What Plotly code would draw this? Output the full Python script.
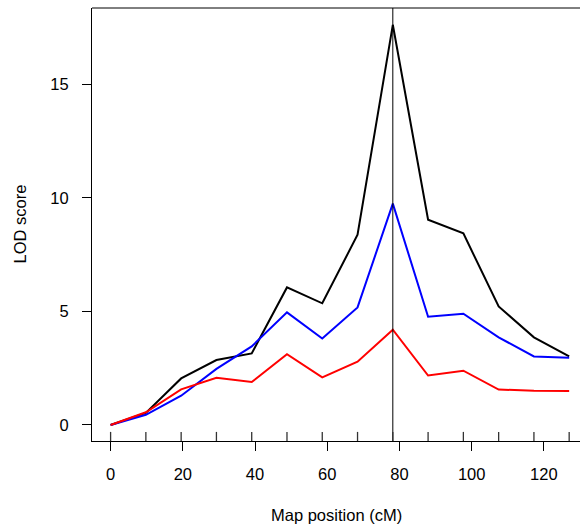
import plotly.graph_objects as go

# Marker positions (cM)
positions = [0.0, 9.77, 19.54, 29.31, 39.08, 48.85, 58.62, 68.39, 78.16, 87.93, 97.7, 107.47, 117.24, 127.0]

# LOD scores
lod_black = [0.0, 0.53, 2.05, 2.86, 3.15, 6.06, 5.36, 8.38, 17.63, 9.04, 8.44, 5.22, 3.86, 3.02]
lod_blue = [0.0, 0.45, 1.29, 2.47, 3.46, 4.96, 3.81, 5.18, 9.75, 4.77, 4.90, 3.86, 3.02, 2.96]
lod_red = [0.0, 0.56, 1.57, 2.08, 1.89, 3.12, 2.10, 2.79, 4.20, 2.18, 2.39, 1.56, 1.51, 1.50]

x_ticks = [0, 20, 40, 60, 80, 100, 120]
y_ticks = [0, 5, 10, 15]

x_range = [-5.15, 130.0]
y_range = [-0.706, 18.37]

font_family = "Liberation Sans, Arial, sans-serif"
fs = 16.5

fig = go.Figure()
for vals, col in [(lod_black, "#000000"), (lod_blue, "#0000FF"), (lod_red, "#FF0000")]:
    fig.add_trace(go.Scatter(x=positions, y=vals, mode="lines",
                             line=dict(color=col, width=2), showlegend=False,
                             hoverinfo="skip"))

# vertical line at peak of the black curve
peak_pos = positions[lod_black.index(max(lod_black))]
shapes = [dict(type="line", xref="x", yref="paper", x0=peak_pos, x1=peak_pos,
               y0=0, y1=1, line=dict(color="#000000", width=1))]
# rug of marker positions
for p in positions:
    shapes.append(dict(type="line", xref="x", yref="paper", x0=p, x1=p,
                       y0=0, y1=0.021, line=dict(color="#333333", width=1.3)))
# top border
shapes.append(dict(type="line", xref="paper", yref="paper", x0=0, x1=1, y0=1, y1=1,
                   line=dict(color="#000000", width=1)))

fig.update_layout(
    width=580, height=525,
    margin=dict(l=92, r=0, t=8, b=84),
    paper_bgcolor="white", plot_bgcolor="white",
    font=dict(family=font_family, size=fs, color="#000000"),
    shapes=shapes,
    xaxis=dict(range=x_range, tickvals=x_ticks, ticks="outside", ticklen=9,
               tickwidth=1, tickcolor="#000000", showline=True, linecolor="#000000",
               linewidth=1, showgrid=False, zeroline=False,
               tickfont=dict(size=fs), ticklabelstandoff=9),
    yaxis=dict(range=y_range, tickvals=y_ticks, ticks="outside", ticklen=9,
               tickwidth=1, tickcolor="#000000", showline=True, linecolor="#000000",
               linewidth=1, showgrid=False, zeroline=False,
               tickfont=dict(size=fs), ticklabelstandoff=10),
    annotations=[
        dict(text="Map position (cM)", xref="paper", yref="paper", x=0.5, y=0,
             yshift=-74, showarrow=False, font=dict(size=fs), yanchor="middle"),
        dict(text="LOD score", xref="paper", yref="paper", x=0, y=0.5,
             xshift=-73, textangle=-90, showarrow=False, font=dict(size=fs),
             xanchor="center"),
    ],
)

fig.write_html("out.html", config={"displayModeBar": False},
               post_script="document.body.style.margin='0';document.body.style.overflow='hidden';")
